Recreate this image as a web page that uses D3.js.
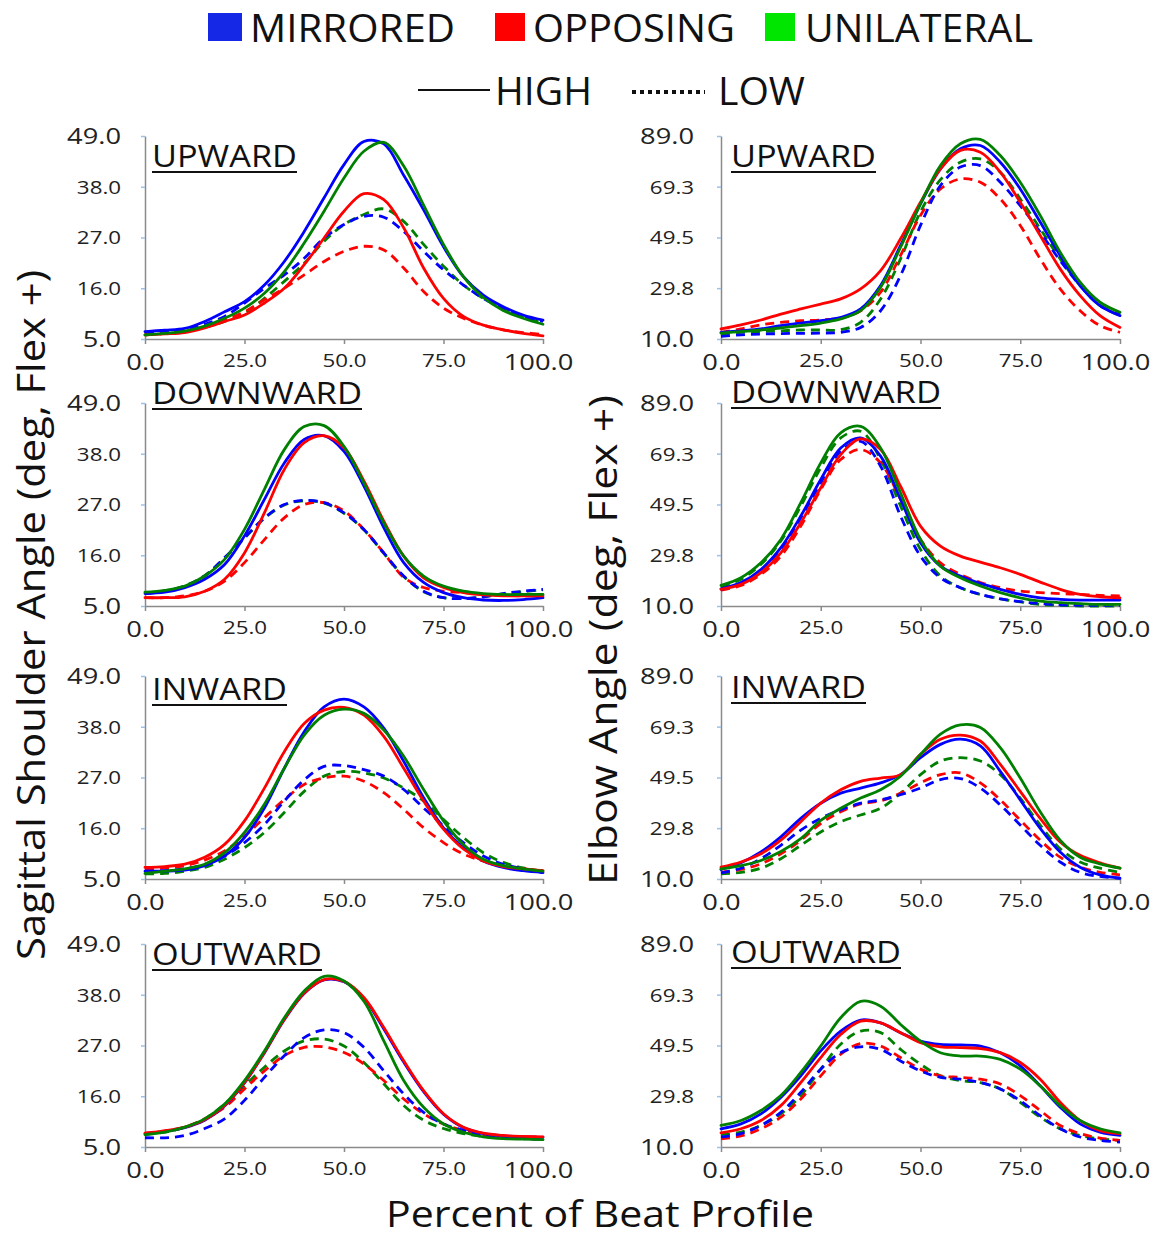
<!DOCTYPE html>
<html><head><meta charset="utf-8">
<script src="https://cdn.jsdelivr.net/npm/d3@7"></script>
<style>body{margin:0;background:#fff}svg{display:block}</style>
</head><body>
<svg id="c" width="1161" height="1233"></svg>
<script>
// ---------------- DATA ----------------
const pct = [0,5,10,15,20,25,30,35,40,45,50,55,60,65,70,75,80,85,90,95,100];
const directions = ["UPWARD","DOWNWARD","INWARD","OUTWARD"];
const conditions = ["MIRRORED","OPPOSING","UNILATERAL"];
const levels = ["HIGH","LOW"];
const xTicks = [0,25,50,75,100];
const shoulderTicks = [5.0,16.0,27.0,38.0,49.0];
const elbowTicks = [10.0,29.8,49.5,69.3,89.0];
const yTitleShoulder = "Sagittal Shoulder Angle (deg, Flex +)";
const yTitleElbow = "Elbow Angle (deg, Flex +)";
const xTitle = "Percent of Beat Profile";

const shoulderUpward = {
  mirroredHigh:   [6.6,6.9,7.3,8.8,10.9,13.1,16.7,21.8,28.3,35.6,42.8,47.8,47.3,40.5,33.0,25.0,18.5,14.5,12.0,10.2,9.1],
  opposingHigh:   [5.9,6.1,6.4,7.4,8.8,10.2,12.8,16.0,21.1,26.9,32.7,36.5,35.2,29.1,20.4,13.8,9.9,8.0,7.0,6.2,5.7],
  unilateralHigh: [5.9,6.2,6.7,7.8,9.5,11.7,14.9,19.6,25.8,32.7,39.9,45.7,47.6,42.5,34.0,25.5,18.5,14.0,11.2,9.5,8.2],
  mirroredLow:    [6.2,6.5,7.0,8.2,9.9,12.8,16.0,18.9,22.5,26.9,29.8,31.6,31.4,28.3,24.0,20.0,16.7,13.8,11.7,9.9,8.8],
  opposingLow:    [5.9,6.2,6.6,7.6,9.1,10.9,13.5,16.0,18.9,21.8,24.0,25.1,24.3,20.4,15.3,11.7,9.5,8.0,7.0,6.4,6.0],
  unilateralLow:  [5.9,6.2,6.6,7.5,8.8,10.6,13.8,17.5,21.4,26.2,29.8,32.0,33.2,30.5,25.5,20.8,16.7,13.8,11.7,9.9,8.4]
};
const elbowUpward = {
  mirroredHigh:   [12.6,13.2,13.9,15.2,16.2,17.1,18.4,21.7,30.8,46.4,62.6,76.2,84.0,85.3,78.8,68.4,55.5,42.5,30.8,23.0,19.1],
  opposingHigh:   [13.9,15.5,17.4,19.7,21.7,23.6,25.6,29.5,36.6,49.0,63.2,76.2,83.4,82.7,74.9,63.2,50.3,37.3,26.9,19.1,14.5],
  unilateralHigh: [12.3,12.9,13.5,14.3,15.2,16.2,17.8,21.0,30.1,45.7,62.6,77.5,86.0,87.7,81.4,71.0,58.1,43.8,32.1,24.3,20.4],
  mirroredLow:    [11.0,11.6,11.9,12.1,12.2,12.3,12.6,14.5,21.0,34.7,54.2,69.7,76.9,77.5,71.0,61.9,51.6,40.5,30.8,23.0,19.7],
  opposingLow:    [12.6,13.9,15.5,16.5,17.1,17.4,18.1,21.0,28.2,42.5,58.1,68.4,72.3,71.0,64.5,54.2,41.2,29.5,21.0,15.2,12.6],
  unilateralLow:  [11.9,12.6,12.9,13.2,13.5,13.5,13.6,16.5,25.6,41.2,59.5,72.0,78.8,80.1,74.9,64.5,52.9,41.2,30.8,23.0,19.1]
};
const shoulderDownward = {
  mirroredHigh:   [7.7,8.0,9.0,10.8,14.0,20.2,28.1,36.0,41.1,41.9,38.5,31.0,22.0,14.4,10.1,7.9,6.8,6.3,6.2,6.4,6.8],
  opposingHigh:   [6.8,6.8,7.0,8.2,10.8,16.5,25.2,34.6,40.4,41.9,39.3,32.1,23.4,15.8,11.1,9.0,7.9,7.4,7.2,7.2,7.2],
  unilateralHigh: [8.0,8.4,9.3,11.5,15.1,21.6,30.3,38.9,43.9,44.1,39.6,31.7,23.0,15.8,11.5,9.3,8.2,7.7,7.5,7.5,7.5],
  mirroredLow:    [7.7,8.2,9.3,11.5,15.5,19.8,24.1,27.0,27.9,27.4,25.2,21.6,16.5,11.5,8.2,6.8,6.6,7.0,7.7,8.2,8.6],
  opposingLow:    [6.8,6.8,7.2,8.2,10.4,14.4,19.4,24.1,27.0,27.4,25.6,21.6,16.5,11.2,9.0,8.2,7.9,7.5,7.3,7.2,7.2],
  unilateralLow:  [7.8,8.3,9.4,11.6,15.4,19.7,24.0,26.9,27.8,27.3,25.1,21.5,16.4,11.4,8.1,6.8,6.6,7.0,7.6,8.1,8.5]
};
const elbowDownward = {
  mirroredHigh:   [16.7,19.1,24.2,32.7,45.0,59.2,71.5,75.4,68.3,51.5,34.6,25.5,21.7,18.8,16.5,14.5,13.2,12.6,12.3,12.3,12.3],
  opposingHigh:   [16.5,18.4,23.0,30.7,42.4,56.0,68.9,75.0,70.9,56.6,41.1,33.3,29.4,27.1,24.9,22.3,19.3,16.5,14.5,13.6,13.2],
  unilateralHigh: [18.0,21.0,26.8,35.9,50.2,65.7,77.4,79.9,71.5,54.0,35.9,25.5,21.0,17.8,15.2,13.2,11.9,11.3,10.9,10.6,10.6],
  mirroredLow:    [16.5,18.8,23.6,32.0,44.3,57.9,70.2,74.1,64.4,45.0,29.4,21.0,17.1,14.5,12.8,11.7,10.9,10.4,10.3,10.3,10.3],
  opposingLow:    [16.2,18.0,22.3,29.4,41.1,55.3,67.0,70.9,65.7,51.5,35.9,26.8,22.3,19.1,17.1,15.8,15.2,14.8,14.5,14.1,13.9],
  unilateralLow:  [17.5,20.4,26.2,35.3,48.9,63.8,75.4,78.0,67.0,48.9,32.0,21.7,17.1,14.5,12.8,11.6,10.6,10.3,10.0,10.0,10.0]
};
const shoulderInward = {
  mirroredHigh:   [6.7,6.7,6.9,7.9,10.0,14.0,20.4,29.0,36.9,42.3,44.0,42.3,37.7,30.5,22.6,16.1,11.8,8.9,7.5,6.8,6.4],
  opposingHigh:   [7.5,7.7,8.2,9.7,12.5,17.6,24.7,32.6,38.7,41.6,42.2,40.5,35.9,29.0,21.9,15.8,11.5,8.9,7.7,7.2,6.8],
  unilateralHigh: [6.2,6.7,7.2,8.2,10.7,15.1,21.2,29.0,36.2,40.5,41.8,40.9,37.3,31.6,24.4,17.6,12.5,9.3,7.9,7.2,6.7],
  mirroredLow:    [6.7,6.8,7.2,8.2,10.0,12.9,16.8,21.9,26.5,29.4,29.6,28.7,27.3,24.4,20.4,16.5,12.9,10.0,8.2,7.2,6.4],
  opposingLow:    [7.2,7.4,7.9,9.1,11.1,14.3,18.3,22.2,25.5,26.9,27.3,26.2,23.7,20.1,16.1,12.9,10.4,8.9,7.9,7.2,6.8],
  unilateralLow:  [6.1,6.2,6.7,7.5,9.3,11.8,15.1,19.4,24.0,27.3,28.3,28.0,26.9,24.7,21.9,17.9,14.0,10.7,8.6,7.4,6.7]
};
const elbowInward = {
  mirroredHigh:   [13.7,16.3,20.5,26.4,33.6,39.5,43.4,45.4,47.4,50.6,57.2,62.4,64.4,61.8,51.9,40.8,29.7,20.5,14.6,11.6,10.3],
  opposingHigh:   [14.6,16.6,19.8,25.1,32.3,39.5,44.7,48.0,49.3,50.6,58.5,64.4,66.0,63.7,54.6,44.1,33.6,24.4,19.2,16.3,14.2],
  unilateralHigh: [13.9,15.2,17.2,20.7,25.7,32.8,37.5,41.5,44.7,50.0,58.5,66.4,70.0,69.0,61.1,49.3,36.2,25.1,18.5,15.9,14.2],
  mirroredLow:    [12.4,14.2,17.9,23.1,29.0,33.6,36.9,39.5,40.8,42.8,45.4,48.7,49.1,45.4,38.8,31.0,23.1,16.6,12.6,11.0,10.3],
  opposingLow:    [12.6,13.7,15.9,19.8,25.1,31.6,36.2,39.2,40.4,43.4,47.4,50.6,51.3,47.4,40.8,32.9,25.1,18.5,14.6,12.6,11.6],
  unilateralLow:  [12.0,12.6,14.2,17.9,23.1,28.3,32.3,34.9,37.5,43.4,50.6,55.9,57.2,55.9,50.6,41.5,31.0,21.8,16.6,14.2,12.6]
};
const shoulderOutward = {
  mirroredHigh:   [7.9,8.4,9.2,10.8,13.9,18.9,25.4,32.6,38.3,41.2,40.8,37.2,30.6,23.4,17.0,12.1,9.2,7.9,7.4,7.2,7.1],
  opposingHigh:   [8.0,8.5,9.3,10.9,14.0,19.0,25.5,32.7,38.4,41.3,40.9,37.4,30.9,23.7,17.2,12.2,9.3,8.0,7.5,7.3,7.2],
  unilateralHigh: [7.7,8.2,9.3,11.1,14.3,19.4,25.8,33.0,38.8,42.0,41.0,36.6,28.0,19.4,13.6,10.0,8.2,7.2,6.8,6.7,6.6],
  mirroredLow:    [7.0,7.0,7.5,9.0,11.1,15.1,20.1,24.8,28.7,30.4,29.8,26.6,21.5,16.5,12.5,10.0,8.6,7.5,7.0,6.8,6.7],
  opposingLow:    [8.0,8.5,9.3,11.1,13.6,17.6,21.5,24.8,26.6,26.7,25.5,23.0,19.4,15.4,12.2,10.0,8.6,7.7,7.3,7.2,7.2],
  unilateralLow:  [7.7,8.2,9.3,11.1,14.3,18.3,22.3,25.8,28.0,28.4,26.9,23.3,18.7,14.0,10.8,9.0,7.9,7.3,7.0,6.8,6.7]
};
const elbowOutward = {
  mirroredHigh:   [17.1,19.0,22.9,29.3,37.7,47.4,55.1,59.4,58.3,54.5,51.2,49.9,49.7,49.3,46.7,41.6,33.8,25.5,19.0,15.8,14.5],
  opposingHigh:   [15.5,17.1,20.3,26.1,35.1,44.8,53.8,59.0,58.3,54.5,50.6,49.0,48.7,48.3,46.7,42.9,36.4,27.4,20.3,16.4,15.2],
  unilateralHigh: [18.4,20.3,24.2,30.0,39.0,49.3,60.3,66.7,64.8,57.7,51.2,46.7,45.4,45.4,44.1,40.3,33.8,26.1,20.3,17.1,15.5],
  mirroredLow:    [13.9,15.2,18.4,23.5,31.3,40.3,46.7,49.0,48.0,43.5,39.6,37.1,36.4,35.1,32.6,28.0,22.2,17.1,13.9,12.6,11.9],
  opposingLow:    [13.2,14.3,17.1,21.6,28.7,37.7,46.1,50.3,49.3,44.8,40.3,37.7,37.1,36.4,34.5,30.0,24.2,18.4,15.2,13.5,12.6],
  unilateralLow:  [14.8,15.8,18.4,22.9,30.0,40.3,50.0,55.1,54.5,48.0,42.2,37.7,35.8,35.1,32.6,27.4,21.6,17.1,14.5,13.2,12.6]
};

const panels = [
  {joint:"shoulder", dir:"UPWARD",   data:shoulderUpward},
  {joint:"elbow",    dir:"UPWARD",   data:elbowUpward},
  {joint:"shoulder", dir:"DOWNWARD", data:shoulderDownward},
  {joint:"elbow",    dir:"DOWNWARD", data:elbowDownward},
  {joint:"shoulder", dir:"INWARD",   data:shoulderInward},
  {joint:"elbow",    dir:"INWARD",   data:elbowInward},
  {joint:"shoulder", dir:"OUTWARD",  data:shoulderOutward},
  {joint:"elbow",    dir:"OUTWARD",  data:elbowOutward}
];

// ---------------- STYLE / LAYOUT ----------------
const FONT = "'Open Sans','Noto Sans',sans-serif";
const lineColors = ["#0000ff","#ff0000","#008000"];
const swatchColors = ["#1428e6","#ff0000","#00e600"];
const seriesKey = (ci, li) => ["mirrored","opposing","unilateral"][ci] + (li === 0 ? "High" : "Low");
// draw order: dashed (green, red, blue) then solid (blue, red, green)
const drawOrder = [[2,1],[1,1],[0,1],[0,0],[1,0],[2,0]];
const layout = {
  cols: [{x0:145, x1:543, labelX:121}, {x0:721, x1:1120, labelX:694}],
  rowTops: [136, 403, 676, 944],
  plotH: 203,
  titleBase: [[167,167],[404,403],[700,698],[965,963]],
  titleOffset: [7, 10],
  titleWidth: {UPWARD:145, DOWNWARD:210, INWARD:135, OUTWARD:170},
  tickStretch: 1.24
};

const svg = d3.select("#c");
svg.append("rect").attr("width",1161).attr("height",1233).attr("fill","#fff");

panels.forEach(p => {
  const ci = p.joint === "shoulder" ? 0 : 1;
  const ri = directions.indexOf(p.dir);
  const col = layout.cols[ci];
  const top = layout.rowTops[ri], bottom = top + layout.plotH;
  const yTicks = ci === 0 ? shoulderTicks : elbowTicks;
  const x = d3.scaleLinear().domain([0,100]).range([col.x0, col.x1]);
  const y = d3.scaleLinear().domain([yTicks[0], yTicks[yTicks.length-1]]).range([bottom, top]);
  const g = svg.append("g");

  // x axis
  const gx = g.append("g").attr("transform", `translate(0,${bottom})`)
    .call(d3.axisBottom(x).tickValues(xTicks).tickSize(5).tickSizeOuter(0).tickFormat(d => d.toFixed(1)));
  gx.select(".domain").attr("stroke","#8a8a8a").attr("stroke-width",1.5);
  gx.selectAll(".tick line").attr("stroke","#8a8a8a").attr("stroke-width",1.5);
  gx.selectAll(".tick text").each(function(d, i){
    const big = (i === 0 || i === xTicks.length-1);
    d3.select(this).attr("font-family",FONT).attr("fill","#222")
      .attr("font-size", big ? 22 : 18).attr("dy", null)
      .attr("y", big ? 31 : 28)
      .attr("x", i === xTicks.length-1 ? -5 : 0);
  });

  // y axis
  const gy = g.append("g").attr("transform", `translate(${col.x0},0)`)
    .call(d3.axisLeft(y).tickValues(yTicks).tickSize(4).tickSizeOuter(0).tickFormat(d => d.toFixed(1)));
  gy.select(".domain").attr("stroke","#8a8a8a").attr("stroke-width",1.5);
  gy.selectAll(".tick line").attr("stroke","#9cc3e6").attr("stroke-width",1.5);
  gy.selectAll(".tick text").each(function(d, i){
    const big = (i === 0 || i === yTicks.length-1);
    d3.select(this).attr("font-family",FONT).attr("fill","#222")
      .attr("font-size", big ? 22 : 18).attr("x", -(col.x0 - col.labelX)).attr("dy","0.36em");
  });
  [gx, gy].forEach(ax => ax.selectAll(".tick text").each(function(){
    const w = this.getComputedTextLength();
    d3.select(this).attr("textLength", w * layout.tickStretch).attr("lengthAdjust","spacingAndGlyphs");
  }));

  // curves
  const line = d3.line().x((d,i) => x(pct[i])).y(d => y(d)).curve(d3.curveCatmullRom.alpha(0.5));
  drawOrder.forEach(([c, l]) => {
    g.append("path").datum(p.data[seriesKey(c,l)])
      .attr("d", line).attr("fill","none")
      .attr("stroke", lineColors[c]).attr("stroke-width", 2.8)
      .attr("stroke-linecap", l === 1 ? "butt" : "round")
      .attr("stroke-dasharray", l === 1 ? "9,6" : null);
  });

  // title
  const tx = col.x0 + layout.titleOffset[ci], tb = layout.titleBase[ri][ci];
  const tw = layout.titleWidth[p.dir];
  g.append("text").attr("x", tx).attr("y", tb).text(p.dir)
    .attr("font-family",FONT).attr("font-size",31).attr("fill","#111")
    .attr("textLength", tw).attr("lengthAdjust","spacingAndGlyphs");
  g.append("line").attr("x1", tx).attr("x2", tx + tw).attr("y1", tb + 5).attr("y2", tb + 5)
    .attr("stroke","#111").attr("stroke-width",2);
});

// ---------------- LEGEND ----------------
const leg = svg.append("g");
const legItems = [
  {sx:208, sw:34, tx:250, tw:205},
  {sx:495, sw:30, tx:533, tw:202},
  {sx:765, sw:30, tx:805, tw:228}
];
conditions.forEach((c, i) => {
  const it = legItems[i];
  leg.append("rect").attr("x", it.sx).attr("y", 13).attr("width", it.sw).attr("height", 28)
    .attr("fill", swatchColors[i]);
  leg.append("text").attr("x", it.tx).attr("y", 42).text(c)
    .attr("font-family",FONT).attr("font-size",38).attr("fill","#111")
    .attr("textLength", it.tw).attr("lengthAdjust","spacingAndGlyphs");
});
const styleItems = [
  {lx0:418, lx1:490, ly:90, tx:495, tw:97, dash:null, sw:2},
  {lx0:632, lx1:705, ly:92, tx:718, tw:87, dash:"4,4", sw:4}
];
levels.forEach((lv, i) => {
  const it = styleItems[i];
  leg.append("line").attr("x1", it.lx0).attr("x2", it.lx1).attr("y1", it.ly).attr("y2", it.ly)
    .attr("stroke","#111").attr("stroke-width", it.sw).attr("stroke-dasharray", it.dash);
  leg.append("text").attr("x", it.tx).attr("y", 105).text(lv)
    .attr("font-family",FONT).attr("font-size",38).attr("fill","#111")
    .attr("textLength", it.tw).attr("lengthAdjust","spacingAndGlyphs");
});

// ---------------- AXIS TITLES ----------------
svg.append("text").attr("transform","translate(45,615) rotate(-90)").attr("text-anchor","middle")
  .text(yTitleShoulder).attr("font-family",FONT).attr("font-size",38).attr("fill","#111")
  .attr("textLength",690).attr("lengthAdjust","spacingAndGlyphs");
svg.append("text").attr("transform","translate(617,640) rotate(-90)").attr("text-anchor","middle")
  .text(yTitleElbow).attr("font-family",FONT).attr("font-size",38).attr("fill","#111")
  .attr("textLength",490).attr("lengthAdjust","spacingAndGlyphs");
svg.append("text").attr("x",600).attr("y",1227).attr("text-anchor","middle")
  .text(xTitle).attr("font-family",FONT).attr("font-size",36).attr("fill","#111")
  .attr("textLength",428).attr("lengthAdjust","spacingAndGlyphs");
</script>
</body></html>
